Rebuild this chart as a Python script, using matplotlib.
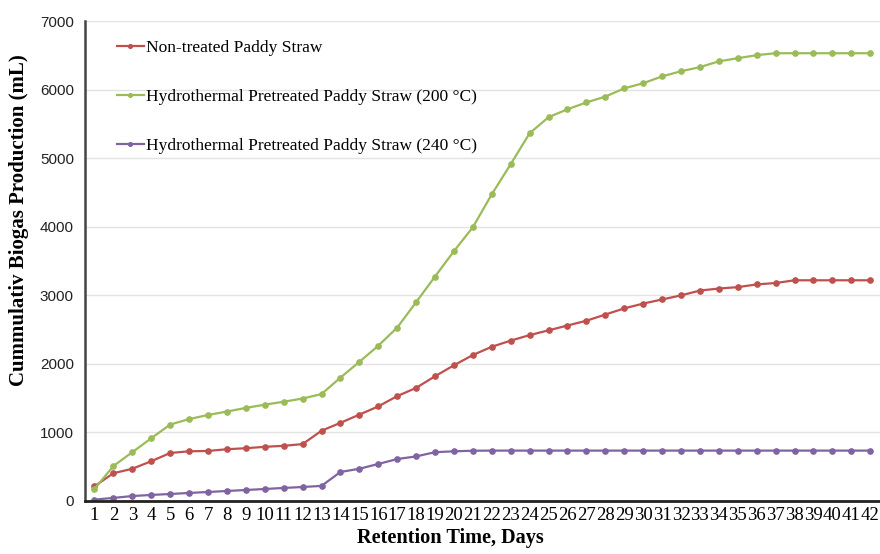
import matplotlib.pyplot as plt

days = list(range(1, 43))

non_treated = [
    215, 405, 470, 580, 700, 725, 730, 755, 770, 790,
    805, 830, 1025, 1140, 1260, 1380, 1530, 1650, 1820, 1980,
    2130, 2250, 2340, 2420, 2490, 2560, 2630, 2720, 2810, 2880,
    2940, 3000, 3070, 3100, 3120, 3160, 3180, 3220, 3220, 3220,
    3220, 3220,
]

hydro_200 = [
    175, 510, 712, 915, 1115, 1195, 1255, 1305, 1358, 1405,
    1448, 1495, 1560, 1800, 2030, 2265, 2530, 2900, 3275, 3645,
    3995, 4475, 4915, 5365, 5600, 5715, 5815, 5900, 6020, 6095,
    6195, 6270, 6330, 6415, 6460, 6505, 6533, 6533, 6533, 6533,
    6533, 6533,
]

hydro_240 = [
    20, 45, 72, 88, 102, 117, 131, 146, 160, 175,
    190, 204, 220, 423, 470, 540, 612, 650, 712, 725,
    733, 735, 735, 735, 735, 735, 735, 735, 735, 735,
    735, 735, 735, 735, 735, 735, 735, 735, 735, 735,
    735, 735,
]

series = [
    ("Non-treated Paddy Straw", non_treated, "#C0504D"),
    ("Hydrothermal Pretreated Paddy Straw (200 \u00b0C)", hydro_200, "#9BBB59"),
    ("Hydrothermal Pretreated Paddy Straw (240 \u00b0C)", hydro_240, "#8064A2"),
]

serif = ["Liberation Serif", "DejaVu Serif"]
sans = ["Liberation Sans", "DejaVu Sans"]

fig = plt.figure(figsize=(8.8, 5.54), dpi=100)
ax = fig.add_axes([0.0966, 0.0957, 0.903, 0.866])

for label, ys, color in series:
    ax.plot(days, ys, color=color, lw=1.6, marker="o", ms=3.8, label=label)

ax.set_xlim(0.5, 42.5)
ax.set_ylim(0, 7000)
ax.set_yticks(range(0, 7001, 1000))
ax.set_xticks(days)
ax.set_xticklabels([str(d) for d in days], fontfamily=serif, fontsize=13.5)
for t in ax.get_yticklabels():
    t.set_fontfamily(sans)
    t.set_fontsize(11)
    t.set_color("#222222")

ax.tick_params(axis="both", length=0)
ax.tick_params(axis="x", pad=4)
ax.tick_params(axis="y", pad=8)

ax.grid(axis="y", color="#E3E3E3", lw=1)
ax.set_axisbelow(True)
for side in ("top", "right"):
    ax.spines[side].set_visible(False)
ax.spines["left"].set_color("#444444")
ax.spines["left"].set_linewidth(1.8)
ax.spines["bottom"].set_color("#222222")
ax.spines["bottom"].set_linewidth(2.0)

ax.set_ylabel("Cummulativ Biogas Production (mL)", fontfamily=serif,
              fontweight="bold", fontsize=15)
ax.yaxis.set_label_coords(-0.071, 0.585)
ax.set_xlabel("Retention Time, Days", fontfamily=serif,
              fontweight="bold", fontsize=14.6)
ax.xaxis.set_label_coords(0.46, -0.057)

ax.legend(loc="upper left", bbox_to_anchor=(0.02, 0.993), frameon=False,
          prop={"family": serif, "size": 12.5}, handlelength=1.6,
          handletextpad=0.1, labelspacing=1.87, markerscale=0.7)

fig.savefig("out.png", dpi=100)
